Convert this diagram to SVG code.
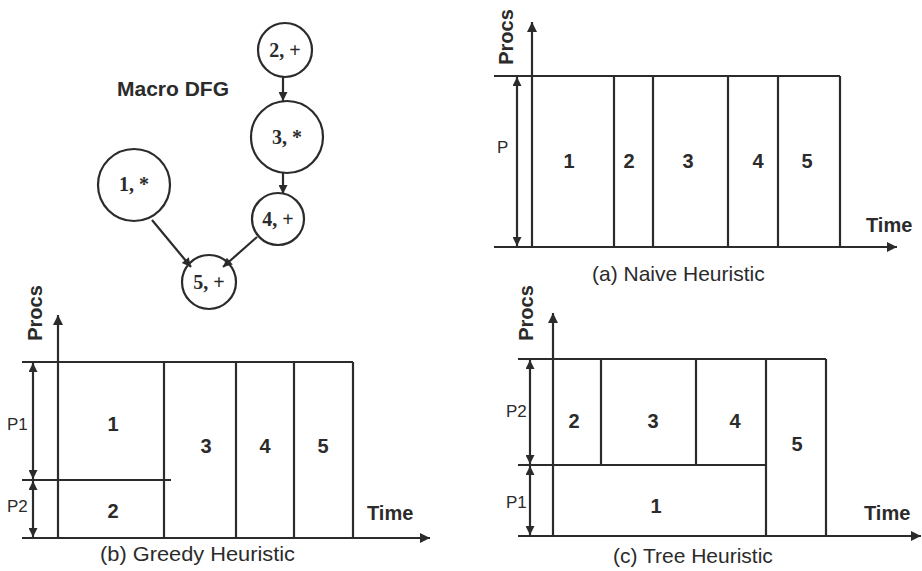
<svg xmlns="http://www.w3.org/2000/svg" width="922" height="571" viewBox="0 0 922 571">
<style>
.ln{stroke:#2b2b2b;stroke-width:2.2;fill:none}
.nd{stroke:#2b2b2b;stroke-width:2.2;fill:none}
.nl{font-family:"Liberation Serif",serif;font-weight:bold;font-size:20px;fill:#2b2b2b;text-anchor:middle}
.num{font-family:"Liberation Sans",Arial,sans-serif;font-weight:bold;font-size:20px;fill:#2b2b2b;text-anchor:middle}
.bt{font-family:"Liberation Sans",Arial,sans-serif;font-weight:bold;font-size:20px;fill:#2b2b2b}
.cap{font-family:"Liberation Sans",Arial,sans-serif;font-size:21px;fill:#2b2b2b}
.pl{font-family:"Liberation Sans",Arial,sans-serif;font-size:17px;fill:#2b2b2b}
</style>
<defs>
<marker id="ah" viewBox="0 0 10 10" refX="10" refY="5" markerWidth="11" markerHeight="9" markerUnits="userSpaceOnUse" orient="auto-start-reverse"><path d="M0,0 L10,5 L0,10 z" fill="#2b2b2b"/></marker>
<marker id="ax" viewBox="0 0 10 10" refX="10" refY="5" markerWidth="18" markerHeight="10" markerUnits="userSpaceOnUse" orient="auto"><path d="M0,0 L10,5 L0,10 z" fill="#2b2b2b"/></marker>
<marker id="dm" viewBox="0 0 10 10" refX="10" refY="5" markerWidth="13" markerHeight="9" markerUnits="userSpaceOnUse" orient="auto-start-reverse"><path d="M0,0 L10,5 L0,10 z" fill="#2b2b2b"/></marker>
</defs>
<rect width="922" height="571" fill="#fff"/>

<!-- Macro DFG -->
<text class="bt" x="117" y="96" font-size="18" textLength="112" lengthAdjust="spacingAndGlyphs">Macro DFG</text>
<g id="connectors">
<line class="ln" x1="283" y1="77" x2="283" y2="101" marker-end="url(#ah)"/>
<line class="ln" x1="283" y1="173" x2="283" y2="194" marker-end="url(#ah)"/>
<line class="ln" x1="152" y1="220" x2="191" y2="267" marker-end="url(#ah)"/>
<line class="ln" x1="257" y1="237" x2="223" y2="267" marker-end="url(#ah)"/>
</g>
<g id="n2"><circle class="nd" cx="285" cy="50" r="27"/><text class="nl" x="285" y="57">2, +</text></g>
<g id="n3"><circle class="nd" cx="287" cy="137" r="36"/><text class="nl" x="287" y="144">3, *</text></g>
<g id="n1"><circle class="nd" cx="134" cy="185" r="36"/><text class="nl" x="134" y="191">1, *</text></g>
<g id="n4"><circle class="nd" cx="278" cy="219" r="26"/><text class="nl" x="278" y="226">4, +</text></g>
<g id="n5"><circle class="nd" cx="209" cy="282" r="27"/><text class="nl" x="209" y="289">5, +</text></g>

<!-- (a) Naive -->
<g id="chart-a">
<line class="ln" x1="532" y1="247" x2="532" y2="22" marker-end="url(#ax)"/>
<line class="ln" x1="494" y1="247" x2="897" y2="247" marker-end="url(#ax)"/>
<line class="ln" x1="494" y1="76" x2="840" y2="76"/>
<line class="ln" x1="614" y1="76" x2="614" y2="247"/>
<line class="ln" x1="653" y1="76" x2="653" y2="247"/>
<line class="ln" x1="728" y1="76" x2="728" y2="247"/>
<line class="ln" x1="778" y1="76" x2="778" y2="247"/>
<line class="ln" x1="840" y1="76" x2="840" y2="247"/>
<line class="ln" x1="517" y1="77" x2="517" y2="246" marker-start="url(#dm)" marker-end="url(#dm)"/>
<text class="pl" x="497" y="153">P</text>
<text class="num" x="569" y="168">1</text>
<text class="num" x="629" y="168">2</text>
<text class="num" x="688" y="168">3</text>
<text class="num" x="758" y="168">4</text>
<text class="num" x="807" y="168">5</text>
<text class="bt" transform="translate(513,37) rotate(-90)" text-anchor="middle">Procs</text>
<text class="bt" x="866" y="232">Time</text>
<text class="cap" x="592" y="281">(a) Naive Heuristic</text>
</g>

<!-- (b) Greedy -->
<g id="chart-b">
<line class="ln" x1="58" y1="538" x2="58" y2="315" marker-end="url(#ax)"/>
<line class="ln" x1="22" y1="538" x2="430" y2="538" marker-end="url(#ax)"/>
<line class="ln" x1="22" y1="362" x2="353" y2="362"/>
<line class="ln" x1="22" y1="480" x2="171" y2="480"/>
<line class="ln" x1="164" y1="362" x2="164" y2="538"/>
<line class="ln" x1="236" y1="362" x2="236" y2="538"/>
<line class="ln" x1="294" y1="362" x2="294" y2="538"/>
<line class="ln" x1="353" y1="362" x2="353" y2="538"/>
<line class="ln" x1="33" y1="363" x2="33" y2="479" marker-start="url(#dm)" marker-end="url(#dm)"/>
<line class="ln" x1="33" y1="481" x2="33" y2="537" marker-start="url(#dm)" marker-end="url(#dm)"/>
<text class="pl" x="7" y="430">P1</text>
<text class="pl" x="7" y="512">P2</text>
<text class="num" x="113" y="431">1</text>
<text class="num" x="206" y="453">3</text>
<text class="num" x="265" y="453">4</text>
<text class="num" x="323" y="453">5</text>
<text class="num" x="113" y="518">2</text>
<text class="bt" transform="translate(42,313) rotate(-90)" text-anchor="middle">Procs</text>
<text class="bt" x="367" y="520">Time</text>
<text class="cap" x="100" y="561" textLength="195" lengthAdjust="spacingAndGlyphs">(b) Greedy Heuristic</text>
</g>

<!-- (c) Tree -->
<g id="chart-c">
<line class="ln" x1="553" y1="536" x2="553" y2="313" marker-end="url(#ax)"/>
<line class="ln" x1="518" y1="536" x2="921" y2="536" marker-end="url(#ax)"/>
<line class="ln" x1="518" y1="359" x2="826" y2="359"/>
<line class="ln" x1="518" y1="465" x2="767" y2="465"/>
<line class="ln" x1="601" y1="359" x2="601" y2="465"/>
<line class="ln" x1="696" y1="359" x2="696" y2="465"/>
<line class="ln" x1="766" y1="359" x2="766" y2="536"/>
<line class="ln" x1="826" y1="359" x2="826" y2="536"/>
<line class="ln" x1="530" y1="360" x2="530" y2="464" marker-start="url(#dm)" marker-end="url(#dm)"/>
<line class="ln" x1="530" y1="466" x2="530" y2="535" marker-start="url(#dm)" marker-end="url(#dm)"/>
<text class="pl" x="506" y="417">P2</text>
<text class="pl" x="506" y="508">P1</text>
<text class="num" x="574" y="428">2</text>
<text class="num" x="653" y="428">3</text>
<text class="num" x="735" y="428">4</text>
<text class="num" x="797" y="451">5</text>
<text class="num" x="656" y="513">1</text>
<text class="bt" transform="translate(533,313) rotate(-90)" text-anchor="middle">Procs</text>
<text class="bt" x="864" y="520">Time</text>
<text class="cap" x="613" y="563">(c) Tree Heuristic</text>
</g>
</svg>
